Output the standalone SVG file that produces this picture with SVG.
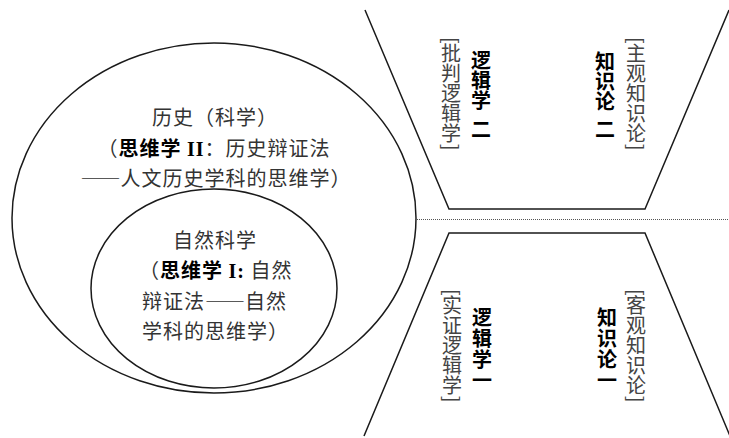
<svg xmlns="http://www.w3.org/2000/svg" width="729" height="438" viewBox="0 0 729 438">
<style>
.ln{fill:none;stroke:#1a1a1a;stroke-width:1.5}
.dot{fill:none;stroke:#555;stroke-width:1;stroke-dasharray:1 1}
.t{font-family:"Noto Sans CJK SC","Noto Sans",sans-serif;font-size:20px;fill:#333;letter-spacing:1px}
.b{font-weight:bold;fill:#000}
.r{font-family:"Liberation Serif","Noto Sans CJK SC",serif;font-weight:bold;fill:#000}
.fw{font-feature-settings:"fwid" 1;letter-spacing:0}
.v{font-family:"Noto Sans CJK SC","Noto Sans",sans-serif;font-size:20px;writing-mode:vertical-rl}
.vg{fill:#444}
.vb{font-weight:bold;fill:#000}
</style>
<rect width="729" height="438" fill="#fff"/>
<g id="connectors">
<polyline class="ln" points="365,10 449,209 645,209 729,10"/>
<polyline class="ln" points="364,436 449,233 645,233 730,436"/>
<line class="dot" x1="417" y1="219.5" x2="729" y2="219.5"/>
</g>
<g id="history">
<ellipse class="ln" cx="214" cy="218" rx="202" ry="175"/>
<text class="t" x="215" y="125" text-anchor="middle">历史（科学）</text>
<text class="t" x="214" y="156" text-anchor="middle">（<tspan class="b">思维学</tspan> <tspan class="r">II</tspan>：历史辩证法</text>
<text class="t" x="216" y="186" text-anchor="middle"><tspan class="fw">——</tspan>人文历史学科的思维学）</text>
</g>
<g id="nature">
<ellipse class="ln" cx="214" cy="288.5" rx="123" ry="99.5"/>
<text class="t" x="215" y="248" text-anchor="middle">自然科学</text>
<text class="t" x="139" y="278">（<tspan class="b">思维学</tspan> <tspan class="r">I:</tspan> 自然</text>
<text class="t" x="142" y="309">辩证法<tspan class="fw">——</tspan>自然</text>
<text class="t" x="142" y="339">学科的思维学）</text>
</g>
<g id="logic2">
<text class="v vg" x="451" y="37">[批判逻辑学]</text>
<text class="v vb" x="481" y="50">逻辑学<tspan y="119">二</tspan></text>
</g>
<g id="knowledge2">
<text class="v vb" x="605" y="51">知识论<tspan y="119">二</tspan></text>
<text class="v vg" x="636" y="37">[主观知识论]</text>
</g>
<g id="logic1">
<text class="v vg" x="452" y="289">[实证逻辑学]</text>
<text class="v vb" x="482" y="307" letter-spacing="1">逻辑学一</text>
</g>
<g id="knowledge1">
<text class="v vb" x="607" y="307" letter-spacing="1">知识论一</text>
<text class="v vg" x="636" y="289">[客观知识论]</text>
</g>
</svg>
